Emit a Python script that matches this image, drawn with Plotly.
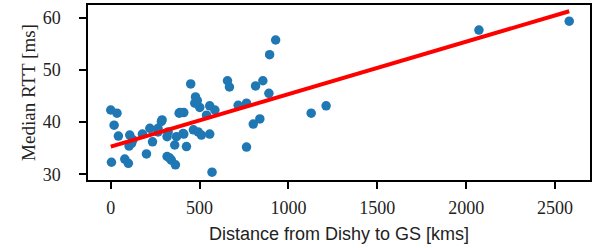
import plotly.graph_objects as go

# Distance from Dishy to GS [kms] and median RTT [ms]
distance_km = [0, 35, 19, 43, 4, 79, 99, 107, 103, 125, 117, 178, 201, 220, 235, 266,
               289, 317, 317, 341, 364, 360, 370, 385, 411, 411, 426, 450, 465, 477,
               487, 501, 492, 510, 557, 539, 557, 586, 570, 657, 668, 717, 764, 764,
               802, 839, 815, 856, 890, 894, 928, 1128, 1212, 2072, 2580,
               285, 266, 323, 332, 389, 407, 473]
median_rtt_ms = [42.3, 41.7, 39.4, 37.3, 32.3, 32.9, 32.1, 37.5, 35.4, 36.6, 35.9, 37.7,
                 33.9, 38.8, 36.2, 38.8, 40.4, 37.2, 33.4, 32.7, 31.8, 35.6, 37.2, 41.7,
                 41.8, 37.7, 35.3, 47.3, 38.5, 44.8, 44.1, 42.8, 38.1, 37.5, 37.7, 41.3,
                 43.1, 42.3, 30.4, 47.9, 46.7, 43.2, 43.6, 35.2, 39.6, 40.6, 46.9, 47.9,
                 45.5, 52.9, 55.7, 41.7, 43.1, 57.6, 59.3,
                 40.1, 38.1, 38.1, 33.1, 41.8, 37.8, 43.6]

# Fitted trend line end points
fit_x = [0, 2580]
fit_y = [35.3, 61.2]

fig = go.Figure()
fig.add_trace(go.Scatter(x=distance_km, y=median_rtt_ms, mode="markers",
                         marker=dict(color="#1f77b4", size=9.5), showlegend=False))
fig.add_trace(go.Scatter(x=fit_x, y=fit_y, mode="lines",
                         line=dict(color="red", width=4), showlegend=False))

axis_common = dict(showline=True, linecolor="black", linewidth=1.5, mirror=True,
                   ticks="outside", ticklen=7, tickwidth=1.5, tickcolor="black",
                   showgrid=False, zeroline=False, automargin=False,
                   tickfont=dict(family="Liberation Serif", size=18, color="#222"))

fig.update_layout(
    width=593, height=248,
    margin=dict(l=88, r=3, t=5, b=68, pad=0, autoexpand=False),
    plot_bgcolor="white", paper_bgcolor="white",
    xaxis=dict(range=[-128, 2697], tickvals=[0, 500, 1000, 1500, 2000, 2500],
               ticklabelstandoff=4,
               title=dict(text="Distance from Dishy to GS [kms]",
                          font=dict(family="Liberation Sans", size=18, color="#222"),
                          standoff=10),
               **axis_common),
    yaxis=dict(range=[28.9, 62.4], tickvals=[30, 40, 50, 60],
               ticklabelstandoff=15,
               title=dict(text="Median RTT [ms]",
                          font=dict(family="Liberation Serif", size=19, color="#222"),
                          standoff=2),
               **axis_common),
)

fig.write_html("out.html", config={"displayModeBar": False},
               post_script="document.body.style.margin='0';document.body.style.overflow='hidden';")
